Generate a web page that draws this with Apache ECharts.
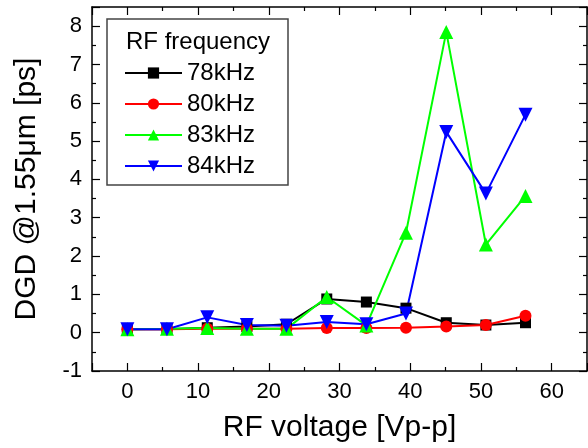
<!DOCTYPE html>
<html>
<head>
<meta charset="utf-8">
<script src="https://cdn.jsdelivr.net/npm/echarts@6/dist/echarts.min.js"></script>
<style>html,body{margin:0;padding:0;background:#fff}#c{width:588px;height:448px}</style>
</head>
<body>
<div id="c"></div>
<script>
const voltage = [0, 5.6, 11.3, 16.9, 22.5, 28.2, 33.8, 39.4, 45.1, 50.7, 56.3];
const dgd78 = [0.09, 0.09, 0.13, 0.16, 0.22, 0.88, 0.8, 0.64, 0.26, 0.2, 0.26];
const dgd80 = [0.09, 0.09, 0.1, 0.1, 0.1, 0.12, 0.12, 0.13, 0.16, 0.2, 0.44];
const dgd83 = [0.09, 0.1, 0.12, 0.1, 0.1, 0.93, 0.19, 2.61, 7.85, 2.3, 3.57];
const dgd84 = [0.09, 0.09, 0.4, 0.2, 0.18, 0.28, 0.22, 0.5, 5.24, 3.63, 5.69];
const seriesNames = ['78kHz', '80kHz', '83kHz', '84kHz'];
const legendTitle = 'RF frequency';
const xTitle = 'RF voltage [Vp-p]';
const yTitle = 'DGD @1.55\u03bcm [ps]';

const FONT = 'Liberation Sans, Arial, sans-serif';
const chart = echarts.init(document.getElementById('c'), null, {renderer: 'canvas'});

function pairs(ys) { return voltage.map((x, i) => [x, ys[i]]); }

const axisLineStyle = {color: '#000', width: 1.5};
function xAx(pos, show) {
  return {
    type: 'value', position: pos, min: -5, max: 65, splitNumber: 7,
    axisLine: {show: true, onZero: false, lineStyle: axisLineStyle},
    axisTick: {show: true, inside: true, length: 8, lineStyle: {color: '#000', width: 1.2}},
    minorTick: {show: true, splitNumber: 2, length: 4, lineStyle: {color: '#000', width: 1.2}},
    splitLine: {show: false},
    axisLabel: {show: show, showMinLabel: false, showMaxLabel: false, margin: 10,
      fontSize: 22, color: '#000', fontFamily: FONT},
    name: show ? xTitle : '', nameLocation: 'middle', nameGap: 42,
    nameTextStyle: {fontSize: 30, color: '#000', fontFamily: FONT}
  };
}
function yAx(pos, show) {
  return {
    type: 'value', position: pos, min: -1, max: 8.5, interval: 1,
    axisLine: {show: true, onZero: false, lineStyle: axisLineStyle},
    axisTick: {show: true, inside: true, length: 8, lineStyle: {color: '#000', width: 1.2}},
    minorTick: {show: true, splitNumber: 2, length: 4, lineStyle: {color: '#000', width: 1.2}},
    splitLine: {show: false},
    axisLabel: {show: show, showMaxLabel: false, margin: 10,
      fontSize: 22, color: '#000', fontFamily: FONT},
    name: show ? yTitle : '', nameLocation: 'middle', nameGap: 50, nameRotate: 90,
    nameTextStyle: {fontSize: 30, color: '#000', fontFamily: FONT}
  };
}

const styles = [
  {color: '#000000', symbol: 'rect', size: 11, rot: 0},
  {color: '#ff0000', symbol: 'circle', size: 12, rot: 0},
  {color: '#00ff00', symbol: 'triangle', size: 14, rot: 0},
  {color: '#0000ff', symbol: 'triangle', size: 14, rot: 180}
];
const allData = [dgd78, dgd80, dgd83, dgd84];

chart.setOption({
  animation: false,
  backgroundColor: '#fff',
  grid: {left: 92, right: 1, top: 7, bottom: 77},
  xAxis: [xAx('bottom', true), xAx('top', false)],
  yAxis: [yAx('left', true), yAx('right', false)],
  legend: {
    orient: 'vertical', left: 119, top: 56,
    itemWidth: 57, itemHeight: 14, itemGap: 7,
    textStyle: {fontSize: 24, lineHeight: 24, color: '#000', fontFamily: FONT},
    data: seriesNames
  },
  graphic: [
    {type: 'rect', shape: {x: 107, y: 19, width: 181, height: 166},
      style: {fill: 'none', stroke: '#444', lineWidth: 1.5}, z: 10},
    {type: 'text', left: 126, top: 30,
      style: {text: legendTitle, fontSize: 24, fill: '#000', fontFamily: FONT}, z: 10}
  ],
  series: seriesNames.map((n, i) => ({
    name: n, type: 'line', data: pairs(allData[i]),
    symbol: styles[i].symbol, symbolSize: styles[i].size, symbolRotate: styles[i].rot,
    lineStyle: {color: styles[i].color, width: 2},
    itemStyle: {color: styles[i].color},
    showAllSymbol: true
  }))
});
</script>
</body>
</html>
